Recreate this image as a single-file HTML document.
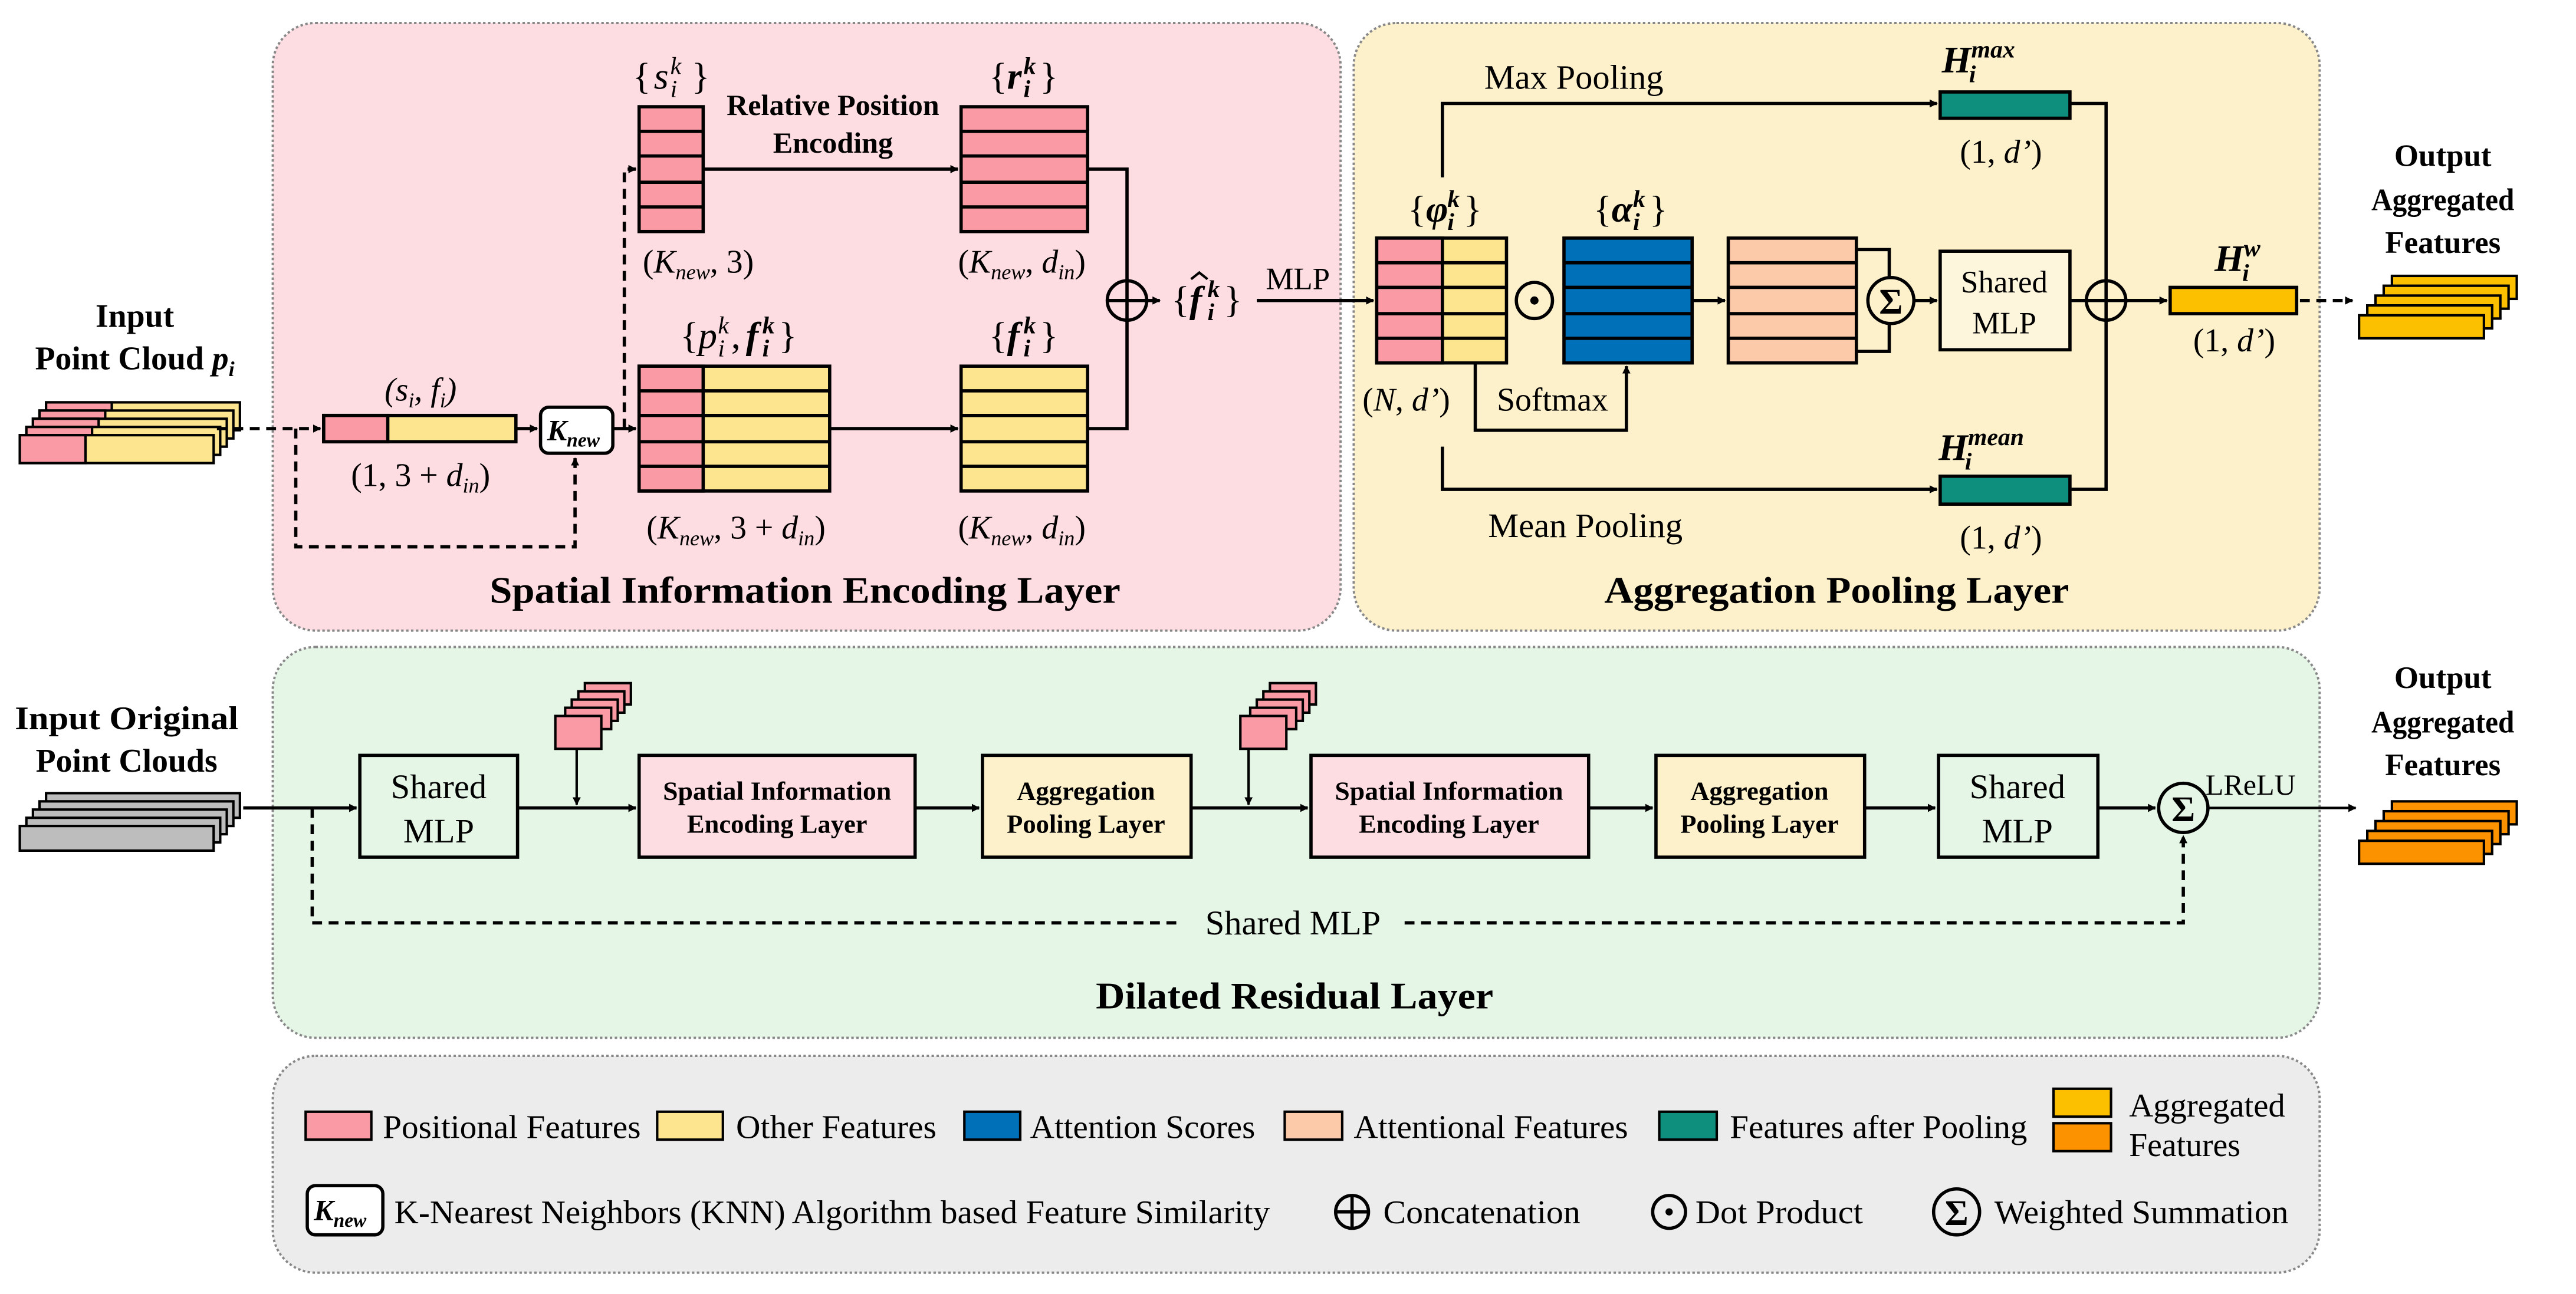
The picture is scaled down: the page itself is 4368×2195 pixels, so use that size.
<!DOCTYPE html>
<html><head><meta charset="utf-8"><style>
html,body{margin:0;padding:0;background:#fff}
svg{display:block}
text{font-family:"Liberation Serif",serif;fill:#000}
.b{font-weight:bold}
.i{font-style:italic}
.br{font-size:23px}
.s{font-size:15px}
</style></head><body>
<svg width="4368" height="2195" viewBox="0 0 1568 788" xmlns="http://www.w3.org/2000/svg">
<defs>
<marker id="a" viewBox="0 0 10 10" refX="9" refY="5" markerWidth="5" markerHeight="5" orient="auto-start-reverse" markerUnits="userSpaceOnUse"><path d="M0,0 L10,5 L0,10 z" fill="#000"/></marker>
</defs>
<g stroke="#888" stroke-width="1.4" stroke-dasharray="1.5,1.5">
<rect x="166" y="14" width="650" height="370" rx="26" fill="#fddde2"/>
<rect x="824" y="14" width="588" height="370" rx="26" fill="#fdf1cb"/>
<rect x="166" y="394" width="1246" height="238" rx="26" fill="#e5f6e7"/>
<rect x="166" y="643" width="1246" height="132" rx="26" fill="#ececec"/>
</g>

<g stroke="#000" stroke-width="1.5">
<rect x="28" y="245" width="118" height="17" fill="#fde58f"/><rect x="28" y="245" width="40" height="17" fill="#f99aa5"/>
<rect x="24" y="250" width="118" height="17" fill="#fde58f"/><rect x="24" y="250" width="40" height="17" fill="#f99aa5"/>
<rect x="20" y="255" width="118" height="17" fill="#fde58f"/><rect x="20" y="255" width="40" height="17" fill="#f99aa5"/>
<rect x="16" y="260" width="118" height="17" fill="#fde58f"/><rect x="16" y="260" width="40" height="17" fill="#f99aa5"/>
<rect x="12" y="265" width="118" height="17" fill="#fde58f"/><rect x="12" y="265" width="40" height="17" fill="#f99aa5"/>
</g>
<text x="82" y="199" class="b" font-size="20" text-anchor="middle">Input</text>
<text x="82" y="225" class="b" font-size="20" text-anchor="middle">Point Cloud <tspan class="i">p<tspan font-size="13" dy="4">i</tspan></tspan></text>

<g stroke="#000" stroke-width="2">
<rect x="197" y="253" width="117" height="16" fill="#fde58f"/><rect x="197" y="253" width="39" height="16" fill="#f99aa5"/>
</g>
<text x="256" y="244" font-size="20" text-anchor="middle" class="i">(s<tspan font-size="13" dy="4">i</tspan><tspan dy="-4">, f</tspan><tspan font-size="13" dy="4">i</tspan><tspan dy="-4">)</tspan></text>
<text x="256" y="296" font-size="20" text-anchor="middle">(1, 3 + <tspan class="i">d</tspan><tspan font-size="13" dy="4" class="i">in</tspan><tspan dy="-4">)</tspan></text>
<g stroke="#000" stroke-width="2" fill="none" stroke-dasharray="6,4">
<path d="M132,261 H195" marker-end="url(#a)"/>
<path d="M180,261 V333 H350 V279" marker-end="url(#a)"/>
<path d="M380,261 V103 H387" marker-end="url(#a)"/>
<path d="M1400,183 H1432" marker-end="url(#a)"/>
<path d="M190,492 V562 H720 M855,562 H1329 V509" marker-end="url(#a)"/>
</g>
<rect x="329" y="248" width="44" height="28" rx="5" fill="#fff" stroke="#000" stroke-width="2"/>
<text x="333" y="268" font-size="18" class="b i">K<tspan font-size="12" dy="4">new</tspan></text>
<g stroke="#000" stroke-width="2" fill="none">
<path d="M314,261 H327" marker-end="url(#a)"/>
<path d="M373,261 H387" marker-end="url(#a)"/>
<path d="M428,103 H583" marker-end="url(#a)"/>
<path d="M505,261 H583" marker-end="url(#a)"/>
<path d="M662,103 H686 V261 H662"/>
<path d="M698,183 H706" marker-end="url(#a)"/>
<path d="M765,183 H836" marker-end="url(#a)"/>
</g>
<circle cx="686" cy="183" r="12" fill="#fddde2" stroke="#000" stroke-width="2"/>
<path d="M674,183 H698 M686,171 V195" stroke="#000" stroke-width="2"/>

<g stroke="#000" stroke-width="2">
<rect x="389" y="65" width="39" height="76" fill="#f99aa5"/>
<path d="M389,80 H428 M389,95 H428 M389,111 H428 M389,126 H428"/>
<rect x="585" y="65" width="77" height="76" fill="#f99aa5"/>
<path d="M585,80 H662 M585,95 H662 M585,111 H662 M585,126 H662"/>
<rect x="389" y="223" width="116" height="76" fill="#fde58f"/>
<rect x="389" y="223" width="39" height="76" fill="#f99aa5"/>
<path d="M389,238 H505 M389,253 H505 M389,269 H505 M389,284 H505"/>
<rect x="585" y="223" width="77" height="76" fill="#fde58f"/>
<path d="M585,238 H662 M585,253 H662 M585,269 H662 M585,284 H662"/>
</g>

<!-- math labels -->
<g class="br">
<!-- s -->
<text x="385" y="54">{</text><text x="398" y="54" class="i">s</text><text x="408" y="45" class="s i">k</text><text x="408" y="59" class="s i">i</text><text x="421" y="54">}</text>
<!-- r -->
<text x="602" y="54">{</text><text x="613" y="54" class="b i">r</text><text x="623" y="45" class="s b i">k</text><text x="623" y="59" class="s b i">i</text><text x="633" y="54">}</text>
<!-- p,f -->
<text x="414" y="212">{</text><text x="425" y="212" class="i">p</text><text x="437" y="203" class="s i">k</text><text x="437" y="217" class="s i">i</text><text x="445" y="212">,</text>
<text x="454" y="212" class="b i">f</text><text x="464" y="203" class="s b i">k</text><text x="464" y="217" class="s b i">i</text><text x="474" y="212">}</text>
<!-- f -->
<text x="602" y="212">{</text><text x="613" y="212" class="b i">f</text><text x="623" y="203" class="s b i">k</text><text x="623" y="217" class="s b i">i</text><text x="633" y="212">}</text>
<!-- f hat -->
<text x="713" y="190">{</text><text x="724" y="190" class="b i">f</text><text x="735" y="181" class="s b i">k</text><text x="735" y="195" class="s b i">i</text><text x="745" y="190">}</text>
<!-- phi -->
<text x="857" y="135">{</text><text x="868" y="135" class="b i">φ</text><text x="881" y="126" class="s b i">k</text><text x="881" y="140" class="s b i">i</text><text x="891" y="135">}</text>
<!-- alpha -->
<text x="970" y="135">{</text><text x="981" y="135" class="b i">α</text><text x="994" y="126" class="s b i">k</text><text x="994" y="140" class="s b i">i</text><text x="1004" y="135">}</text>
</g>
<path d="M725,170 L730,166 L735,170" stroke="#000" stroke-width="1.5" fill="none"/>

<text x="507" y="70" font-size="18" class="b" text-anchor="middle">Relative Position</text>
<text x="507" y="93" font-size="18" class="b" text-anchor="middle">Encoding</text>
<text x="425" y="166" font-size="20" text-anchor="middle">(<tspan class="i">K</tspan><tspan font-size="13" dy="4" class="i">new</tspan><tspan dy="-4">, 3)</tspan></text>
<text x="622" y="166" font-size="20" text-anchor="middle">(<tspan class="i">K</tspan><tspan font-size="13" dy="4" class="i">new</tspan><tspan dy="-4">, </tspan><tspan class="i">d</tspan><tspan font-size="13" dy="4" class="i">in</tspan><tspan dy="-4">)</tspan></text>
<text x="448" y="328" font-size="20" text-anchor="middle">(<tspan class="i">K</tspan><tspan font-size="13" dy="4" class="i">new</tspan><tspan dy="-4">, 3 + </tspan><tspan class="i">d</tspan><tspan font-size="13" dy="4" class="i">in</tspan><tspan dy="-4">)</tspan></text>
<text x="622" y="328" font-size="20" text-anchor="middle">(<tspan class="i">K</tspan><tspan font-size="13" dy="4" class="i">new</tspan><tspan dy="-4">, </tspan><tspan class="i">d</tspan><tspan font-size="13" dy="4" class="i">in</tspan><tspan dy="-4">)</tspan></text>
<text x="790" y="176" font-size="19" text-anchor="middle">MLP</text>
<text x="490" y="367" font-size="23" class="b" text-anchor="middle" textLength="384" lengthAdjust="spacingAndGlyphs">Spatial Information Encoding Layer</text>

<g stroke="#000" stroke-width="2">
<rect x="838" y="145" width="79" height="76" fill="#fde58f"/>
<rect x="838" y="145" width="40" height="76" fill="#f99aa5"/>
<path d="M838,160 H917 M838,175 H917 M838,191 H917 M838,206 H917"/>
<rect x="952" y="145" width="78" height="76" fill="#0070b8"/>
<path d="M952,160 H1030 M952,175 H1030 M952,191 H1030 M952,206 H1030"/>
<rect x="1052" y="145" width="78" height="76" fill="#fccaa8"/>
<path d="M1052,160 H1130 M1052,175 H1130 M1052,191 H1130 M1052,206 H1130"/>
<rect x="1181" y="153" width="79" height="60" fill="#fdf5dc"/>
<rect x="1181" y="56" width="79" height="16" fill="#0e8f7e"/>
<rect x="1181" y="290" width="79" height="17" fill="#0e8f7e"/>
<rect x="1321" y="175" width="77" height="16" fill="#fcc000"/>
</g>
<g stroke="#000" stroke-width="2" fill="none">
<path d="M898,221 V262 H990 V223" marker-end="url(#a)"/>
<path d="M1030,183 H1050" marker-end="url(#a)"/>
<path d="M1130,152 H1150 V169 M1130,214 H1150 V197"/>
<path d="M1165,183 H1179" marker-end="url(#a)"/>
<path d="M878,108 V63 H1179" marker-end="url(#a)"/>
<path d="M878,272 V298 H1179" marker-end="url(#a)"/>
<path d="M1260,63 H1282 V298 H1260 M1260,183 H1270"/>
<path d="M1294,183 H1319" marker-end="url(#a)"/>
</g>
<circle cx="934" cy="183" r="11" fill="none" stroke="#000" stroke-width="2"/><circle cx="934" cy="183" r="2.5"/>
<circle cx="1151" cy="183" r="14" fill="#fdf1cb" stroke="#000" stroke-width="2"/>
<text x="1151" y="191" font-size="22" class="b" text-anchor="middle">Σ</text>
<circle cx="1282" cy="183" r="12" fill="#fdf1cb" stroke="#000" stroke-width="2"/>
<path d="M1270,183 H1294 M1282,171 V195" stroke="#000" stroke-width="2"/>
<text x="1220" y="178" font-size="19" text-anchor="middle">Shared</text>
<text x="1220" y="203" font-size="19" text-anchor="middle">MLP</text>
<text x="856" y="250" font-size="20" text-anchor="middle">(<tspan class="i">N</tspan>, <tspan class="i">d’</tspan>)</text>
<text x="945" y="250" font-size="20" text-anchor="middle">Softmax</text>
<text x="958" y="54" font-size="21" text-anchor="middle">Max Pooling</text>
<text x="965" y="327" font-size="21" text-anchor="middle">Mean Pooling</text>
<text x="1182" y="44" font-size="23" class="b i">H<tspan font-size="15" dy="-9">max</tspan><tspan font-size="15" dx="-28" dy="15">i</tspan></text>
<text x="1180" y="280" font-size="23" class="b i">H<tspan font-size="15" dy="-9">mean</tspan><tspan font-size="15" dx="-36" dy="15">i</tspan></text>
<text x="1348" y="165" font-size="23" class="b i">H<tspan font-size="15" dy="-9">w</tspan><tspan font-size="15" dx="-11" dy="15">i</tspan></text>
<text x="1218" y="99" font-size="20" text-anchor="middle">(1, <tspan class="i">d’</tspan>)</text>
<text x="1218" y="334" font-size="20" text-anchor="middle">(1, <tspan class="i">d’</tspan>)</text>
<text x="1360" y="214" font-size="20" text-anchor="middle">(1, <tspan class="i">d’</tspan>)</text>
<text x="1118" y="367" font-size="23" class="b" text-anchor="middle" textLength="283" lengthAdjust="spacingAndGlyphs">Aggregation Pooling Layer</text>

<g stroke="#000" stroke-width="1.5" fill="#fcc000">
<rect x="1456" y="168" width="76" height="14"/><rect x="1451" y="174" width="76" height="14"/><rect x="1446" y="180" width="76" height="14"/><rect x="1441" y="186" width="76" height="14"/><rect x="1436" y="192" width="76" height="14"/>
</g>
<g class="b" font-size="19" text-anchor="middle">
<text x="1487" y="101">Output</text><text x="1487" y="128" textLength="87" lengthAdjust="spacingAndGlyphs">Aggregated</text><text x="1487" y="154">Features</text>
<text x="1487" y="419">Output</text><text x="1487" y="446" textLength="87" lengthAdjust="spacingAndGlyphs">Aggregated</text><text x="1487" y="472">Features</text>
<text x="77" y="444" font-size="20" textLength="136" lengthAdjust="spacingAndGlyphs">Input Original</text><text x="77" y="470" font-size="20">Point Clouds</text>
</g>
<g stroke="#000" stroke-width="1.5" fill="#fc9200">
<rect x="1456" y="488" width="76" height="14"/><rect x="1451" y="494" width="76" height="14"/><rect x="1446" y="500" width="76" height="14"/><rect x="1441" y="506" width="76" height="14"/><rect x="1436" y="512" width="76" height="14"/>
</g>
<g stroke="#000" stroke-width="1.5" fill="#bdbdbd">
<rect x="28" y="483" width="118" height="15"/><rect x="24" y="488" width="118" height="15"/><rect x="20" y="493" width="118" height="15"/><rect x="16" y="498" width="118" height="15"/><rect x="12" y="503" width="118" height="15"/>
</g>

<g stroke="#000" stroke-width="2">
<rect x="219" y="460" width="96" height="62" fill="#e5f6e7"/>
<rect x="389" y="460" width="168" height="62" fill="#fddde2"/>
<rect x="598" y="460" width="127" height="62" fill="#fdf1cb"/>
<rect x="798" y="460" width="169" height="62" fill="#fddde2"/>
<rect x="1008" y="460" width="127" height="62" fill="#fdf1cb"/>
<rect x="1180" y="460" width="97" height="62" fill="#e5f6e7"/>
</g>
<g stroke="#000" stroke-width="1.5" fill="#f99aa5">
<rect x="356" y="416" width="28" height="13"/><rect x="352" y="421" width="28" height="13"/><rect x="348" y="426" width="28" height="13"/><rect x="344" y="431" width="28" height="13"/><rect x="338" y="436" width="28" height="20"/>
<rect x="773" y="416" width="28" height="13"/><rect x="769" y="421" width="28" height="13"/><rect x="765" y="426" width="28" height="13"/><rect x="761" y="431" width="28" height="13"/><rect x="755" y="436" width="28" height="20"/>
</g>
<g stroke="#000" stroke-width="2" fill="none">
<path d="M148,492 H217" marker-end="url(#a)"/>
<path d="M315,492 H387" marker-end="url(#a)"/>
<path d="M351,456 V490" marker-end="url(#a)" stroke-width="1.5"/>
<path d="M557,492 H596" marker-end="url(#a)"/>
<path d="M725,492 H796" marker-end="url(#a)"/>
<path d="M760,456 V490" marker-end="url(#a)" stroke-width="1.5"/>
<path d="M967,492 H1006" marker-end="url(#a)"/>
<path d="M1135,492 H1178" marker-end="url(#a)"/>
<path d="M1277,492 H1312" marker-end="url(#a)"/>
<path d="M1344,492 H1434" marker-end="url(#a)" stroke-width="1.5"/>
</g>
<circle cx="1329" cy="492" r="15" fill="#e5f6e7" stroke="#000" stroke-width="2"/>
<text x="1329" y="500" font-size="22" class="b" text-anchor="middle">Σ</text>
<text x="1370" y="484" font-size="18" text-anchor="middle">LReLU</text>
<g font-size="21" text-anchor="middle">
<text x="267" y="486">Shared</text><text x="267" y="513">MLP</text>
<text x="1228" y="486">Shared</text><text x="1228" y="513">MLP</text>
<text x="787" y="569">Shared MLP</text>
</g>
<g font-size="16" class="b" text-anchor="middle">
<text x="473" y="487" textLength="139" lengthAdjust="spacingAndGlyphs">Spatial Information</text><text x="473" y="507">Encoding Layer</text>
<text x="882" y="487" textLength="139" lengthAdjust="spacingAndGlyphs">Spatial Information</text><text x="882" y="507">Encoding Layer</text>
<text x="661" y="487">Aggregation</text><text x="661" y="507">Pooling Layer</text>
<text x="1071" y="487">Aggregation</text><text x="1071" y="507">Pooling Layer</text>
</g>
<text x="788" y="614" font-size="23" class="b" text-anchor="middle" textLength="242" lengthAdjust="spacingAndGlyphs">Dilated Residual Layer</text>

<g stroke="#000" stroke-width="1.5">
<rect x="186" y="677" width="40" height="17" fill="#f99aa5"/>
<rect x="400" y="677" width="40" height="17" fill="#fde58f"/>
<rect x="587" y="677" width="34" height="17" fill="#0070b8"/>
<rect x="782" y="677" width="35" height="17" fill="#fccaa8"/>
<rect x="1010" y="677" width="35" height="17" fill="#0e8f7e"/>
<rect x="1250" y="663" width="35" height="17" fill="#fcc000"/>
<rect x="1250" y="684" width="35" height="17" fill="#fc9200"/>
</g>
<g font-size="20">
<text x="233" y="693" textLength="157" lengthAdjust="spacingAndGlyphs">Positional Features</text>
<text x="448" y="693" textLength="122" lengthAdjust="spacingAndGlyphs">Other Features</text>
<text x="627" y="693" textLength="137" lengthAdjust="spacingAndGlyphs">Attention Scores</text>
<text x="824" y="693" textLength="167" lengthAdjust="spacingAndGlyphs">Attentional Features</text>
<text x="1053" y="693" textLength="181" lengthAdjust="spacingAndGlyphs">Features after Pooling</text>
<text x="1296" y="680" textLength="95" lengthAdjust="spacingAndGlyphs">Aggregated</text>
<text x="1296" y="704">Features</text>
<text x="240" y="745" textLength="533" lengthAdjust="spacingAndGlyphs">K-Nearest Neighbors (KNN) Algorithm based Feature Similarity</text>
<text x="842" y="745" textLength="120" lengthAdjust="spacingAndGlyphs">Concatenation</text>
<text x="1032" y="745" textLength="102" lengthAdjust="spacingAndGlyphs">Dot Product</text>
<text x="1214" y="745" textLength="179" lengthAdjust="spacingAndGlyphs">Weighted Summation</text>
</g>
<rect x="187" y="722" width="46" height="30" rx="5" fill="#fff" stroke="#000" stroke-width="2"/>
<text x="191" y="743" font-size="18" class="b i">K<tspan font-size="12" dy="4">new</tspan></text>
<circle cx="823" cy="738" r="10" fill="none" stroke="#000" stroke-width="2"/>
<path d="M813,738 H833 M823,728 V748" stroke="#000" stroke-width="2"/>
<circle cx="1016" cy="738" r="10" fill="none" stroke="#000" stroke-width="2"/><circle cx="1016" cy="738" r="2.2"/>
<circle cx="1191" cy="738" r="14" fill="none" stroke="#000" stroke-width="2"/>
<text x="1191" y="746" font-size="22" class="b" text-anchor="middle">Σ</text>
</svg>
</body></html>
